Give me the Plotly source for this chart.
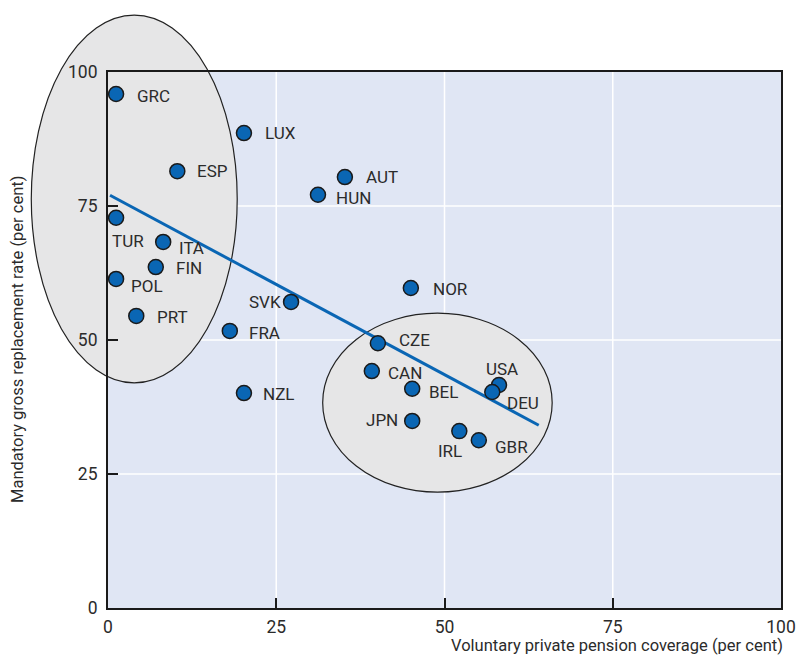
import plotly.graph_objects as go

# voluntary private pension coverage (x) vs mandatory gross replacement rate (y)
countries = ["GRC", "LUX", "ESP", "AUT", "HUN", "TUR", "ITA", "FIN", "POL", "PRT", "SVK",
             "FRA", "NZL", "NOR", "CZE", "CAN", "BEL", "JPN", "USA", "DEU", "IRL", "GBR"]
coverage = [1.2, 20.2, 10.3, 35.2, 31.2, 1.2, 8.2, 7.1, 1.2, 4.2, 27.2,
            18.1, 20.2, 45.0, 40.1, 39.2, 45.2, 45.2, 58.1, 57.1, 52.2, 55.1]
replacement = [95.9, 88.6, 81.5, 80.4, 77.1, 72.8, 68.3, 63.6, 61.4, 54.5, 57.1,
               51.7, 40.1, 59.7, 49.4, 44.2, 40.9, 34.9, 41.6, 40.3, 33.0, 31.3]

trend_x = [0.3, 64.0]
trend_y = [77.0, 34.1]

# ellipses around the two country groups: (x0, x1, y0, y1) in data units
groups = [(-11.4, 19.2, 42.0, 110.6), (31.9, 66.0, 21.6, 55.0)]

ticks = [0, 25, 50, 75, 100]

# label placement: (xanchor, xshift, yshift) in pixels
label_pos = {
    "GRC": ("left", 19, -2), "LUX": ("left", 19, 0), "ESP": ("left", 18, 0),
    "AUT": ("left", 19, 0), "HUN": ("left", 16, -3), "TUR": ("center", 12, -23),
    "ITA": ("left", 14, -6), "FIN": ("left", 18, -1), "POL": ("left", 13, -7),
    "PRT": ("left", 19, -1), "SVK": ("right", -8, 0), "FRA": ("left", 17, -2),
    "NZL": ("left", 17, -1), "NOR": ("left", 20, -1), "CZE": ("left", 19, 3),
    "CAN": ("left", 14, -2), "BEL": ("left", 15, -3), "JPN": ("right", -12, 1),
    "USA": ("center", 3, 16), "DEU": ("left", 13, -11), "IRL": ("center", -9, -20),
    "GBR": ("left", 14, -7),
}

FONT = "Roboto, Liberation Sans, sans-serif"
BLUE = "#0a66b4"
XR = [0, 100]
YR = [0, 100]


def px(v):
    return (v - XR[0]) / (XR[1] - XR[0])


def py(v):
    return (v - YR[0]) / (YR[1] - YR[0])


fig = go.Figure()

fig.add_trace(go.Scatter(x=trend_x, y=trend_y, mode="lines",
                         line=dict(color=BLUE, width=3), hoverinfo="skip"))
fig.add_trace(go.Scatter(x=coverage, y=replacement, mode="markers", text=countries,
                         marker=dict(size=15, color=BLUE, line=dict(color="#1a1a1a", width=1.5)),
                         cliponaxis=False))

# gridlines as shapes so the ellipses can cover them
for t in ticks[1:-1]:
    fig.add_shape(type="line", xref="x", yref="paper", x0=t, x1=t, y0=0, y1=1,
                  line=dict(color="white", width=1.5), layer="below")
    fig.add_shape(type="line", xref="paper", yref="y", x0=0, x1=1, y0=t, y1=t,
                  line=dict(color="white", width=1.5), layer="below")

for x0, x1, y0, y1 in groups:
    fig.add_shape(type="circle", xref="paper", yref="paper",
                  x0=px(x0), x1=px(x1), y0=py(y0), y1=py(y1),
                  fillcolor="#e6e6e7", line=dict(color="#222222", width=1.2), layer="below")

for c, x, y in zip(countries, coverage, replacement):
    anchor, dx, dy = label_pos[c]
    fig.add_annotation(x=x, y=y, text=c, showarrow=False, xanchor=anchor, yanchor="middle",
                       xshift=dx, yshift=dy, font=dict(family=FONT, size=17, color="#2b2b2b"))

fig.add_annotation(text="Voluntary private pension coverage (per cent)", xref="paper", yref="paper",
                   x=1.006, y=0, yshift=-49, xanchor="right", yanchor="bottom", showarrow=False,
                   font=dict(family=FONT, size=16.5, color="#2b2b2b"))
fig.add_annotation(text="Mandatory gross replacement rate (per cent)", xref="paper", yref="paper",
                   x=0, xshift=-91, y=py(50), xanchor="center", yanchor="middle", textangle=-90,
                   showarrow=False, font=dict(family=FONT, size=16.5, color="#2b2b2b"))

axis_common = dict(showgrid=False, zeroline=False, showline=True, linecolor="#1a1a1a",
                   linewidth=2, mirror=True, ticks="inside", ticklen=10, tickwidth=1.5,
                   tickcolor="#1a1a1a", tickvals=ticks, automargin=False,
                   tickfont=dict(family=FONT, size=17.5, color="#2b2b2b"), fixedrange=True)

fig.update_xaxes(range=XR, ticklabelstandoff=2, **axis_common)
fig.update_yaxes(range=YR, ticklabelstandoff=5, **axis_common)

fig.update_layout(
    width=798, height=658,
    margin=dict(l=108, r=17, t=72, b=50),
    plot_bgcolor="#e0e6f4", paper_bgcolor="white",
    showlegend=False,
)

fig.write_html("out.html", config={"displayModeBar": False, "responsive": False},
               post_script="document.body.style.margin='0';")
